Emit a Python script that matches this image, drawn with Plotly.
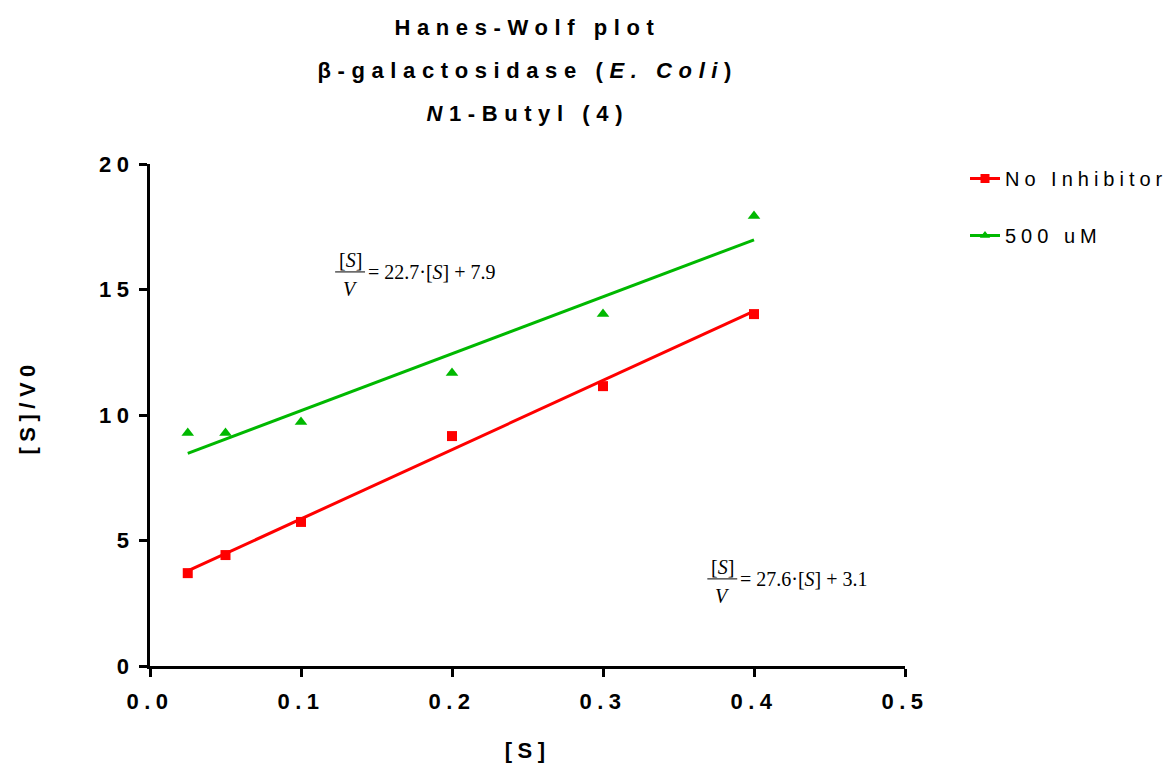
import plotly.graph_objects as go

# ---- data ----
substrate = [0.025, 0.05, 0.1, 0.2, 0.3, 0.4]
no_inhibitor = [3.70, 4.42, 5.74, 9.16, 11.15, 14.02]
inhib_500uM = [9.28, 9.28, 9.72, 11.67, 14.02, 17.93]
fit_x = [0.025, 0.4]
fit_slope = {"No Inhibitor": 27.6, "500 uM": 22.7}
fit_intercept = {"No Inhibitor": 3.1, "500 uM": 7.9}
series_names = ["No Inhibitor", "500 uM"]
x_ticks = [0.0, 0.1, 0.2, 0.3, 0.4, 0.5]
x_ticklabels = ["0.0", "0.1", "0.2", "0.3", "0.4", "0.5"]
y_ticks = [0, 5, 10, 15, 20]
y_ticklabels = ["0", "5", "10", "15", "20"]

RED = "#FF0000"
GREEN = "#00B800"
SANS = "Liberation Sans, Arial, sans-serif"
TSANS = "Arial, Liberation Sans, sans-serif"   # same face, wider letter spacing (titles)
SERIF = "Liberation Serif, Times New Roman, serif"

fig = go.Figure()

series = [(series_names[0], no_inhibitor, RED, "square", 10),
          (series_names[1], inhib_500uM, GREEN, "triangle-up", 11)]

for name, ys, col, sym, msize in series:
    fx = fit_x
    fy = [fit_slope[name] * v + fit_intercept[name] for v in fx]
    fig.add_trace(go.Scatter(x=fx, y=fy, mode="lines", line=dict(color=col, width=3),
                             showlegend=False, hoverinfo="skip"))
    fig.add_trace(go.Scatter(x=substrate, y=ys, mode="markers",
                             marker=dict(symbol=sym, size=msize, color=col), showlegend=False))

for i, (name, ys, col, sym, msize) in enumerate(series):
    fig.add_trace(go.Scatter(x=[None], y=[None], mode="lines+markers", name=name,
                             line=dict(color=col, width=3),
                             marker=dict(symbol=sym, size=9, color=col),
                             legendgroup=f"g{i}"))

annotations = []
# titles
title_lines = ["Hanes-Wolf plot",
               "β-galactosidase (<i>E. Coli</i>)",
               "<i>N</i>1-Butyl (4)"]
title_y = [27, 71, 113]
for t, py in zip(title_lines, title_y):
    annotations.append(dict(text=t, xref="paper", yref="paper",
                            x=0.5, y=(666 - py) / 502, xanchor="center", yanchor="middle",
                            showarrow=False,
                            font=dict(family=TSANS, size=22, color="black", weight="bold")))
# axis titles
annotations.append(dict(text="[S]", xref="paper", yref="paper", x=0.5, y=(666 - 750) / 502,
                        xanchor="center", yanchor="middle", showarrow=False,
                        font=dict(family=SANS, size=22, color="black", weight="bold")))
annotations.append(dict(text="[S]/V0", xref="paper", yref="paper", x=(27 - 150) / 755,
                        y=(666 - 407) / 502, xanchor="center", yanchor="middle", textangle=-90,
                        showarrow=False,
                        font=dict(family=SANS, size=22, color="black", weight="bold")))

# equations (fraction centre in data units)
eqs = [("500 uM", 0.1325, 15.7), ("No Inhibitor", 0.379, 3.47)]
shapes = []
for name, cx, cy in eqs:
    f = dict(family=SERIF, size=20, color="black")
    annotations.append(dict(text="[<i>S</i>]", x=cx, y=cy, xref="x", yref="y", yshift=12,
                            xanchor="center", yanchor="middle", showarrow=False, font=f))
    annotations.append(dict(text="<i>V</i>", x=cx, y=cy, xref="x", yref="y", yshift=-17,
                            xanchor="center", yanchor="middle", showarrow=False, font=f))
    annotations.append(dict(text=f"= {fit_slope[name]}·[<i>S</i>] + {fit_intercept[name]}",
                            x=cx, y=cy, xref="x", yref="y", xshift=16,
                            xanchor="left", yanchor="middle", showarrow=False, font=f))
    shapes.append(dict(type="line", xref="x", yref="y", x0=cx - 0.0099, x1=cx + 0.0099,
                       y0=cy, y1=cy, line=dict(color="black", width=1)))

fig.update_layout(
    width=1173, height=767,
    margin=dict(l=150, r=268, t=164, b=101, autoexpand=False),
    paper_bgcolor="white", plot_bgcolor="white",
    showlegend=True,
    legend=dict(x=(965 - 150) / 755, y=(666 - 159) / 502, xanchor="left", yanchor="top",
                font=dict(family=SANS, size=20, color="black"), tracegroupgap=28,
                traceorder="grouped", itemwidth=30, bgcolor="rgba(0,0,0,0)"),
    annotations=annotations,
    shapes=shapes,
    xaxis=dict(range=[0, 0.5], tickvals=x_ticks, ticktext=x_ticklabels, showgrid=False,
               zeroline=False, showline=True, linecolor="black", linewidth=3,
               ticks="outside", ticklen=8, tickwidth=3, tickcolor="black",
               tickfont=dict(family=SANS, size=22, color="black", weight="bold"),
               ticklabelstandoff=6),
    yaxis=dict(range=[0, 20], tickvals=y_ticks, ticktext=y_ticklabels, showgrid=False,
               zeroline=False, showline=True, linecolor="black", linewidth=3,
               ticks="outside", ticklen=8, tickwidth=3, tickcolor="black",
               tickfont=dict(family=SANS, size=22, color="black", weight="bold")),
)

post = """
document.body.style.margin = '0';
document.body.style.padding = '0';
var gd = document.getElementById('{plot_id}');
function spaceText(){
  gd.querySelectorAll('text').forEach(function(el){
    var ff = el.style.fontFamily || '';
    if (ff.indexOf('Arial') === 0 || ff.indexOf('"Arial') === 0) { el.style.letterSpacing = '0.3em'; }
    else if (ff.indexOf('Liberation Sans') >= 0) { el.style.letterSpacing = '0.25em'; }
  });
  gd.querySelectorAll('.legend .scrollbox, .legend').forEach(function(el){
    el.removeAttribute('clip-path');
  });
}
spaceText();
if (gd.on) { gd.on('plotly_afterplot', spaceText); }
"""
fig.write_html("out.html", post_script=post, config={"displayModeBar": False})
